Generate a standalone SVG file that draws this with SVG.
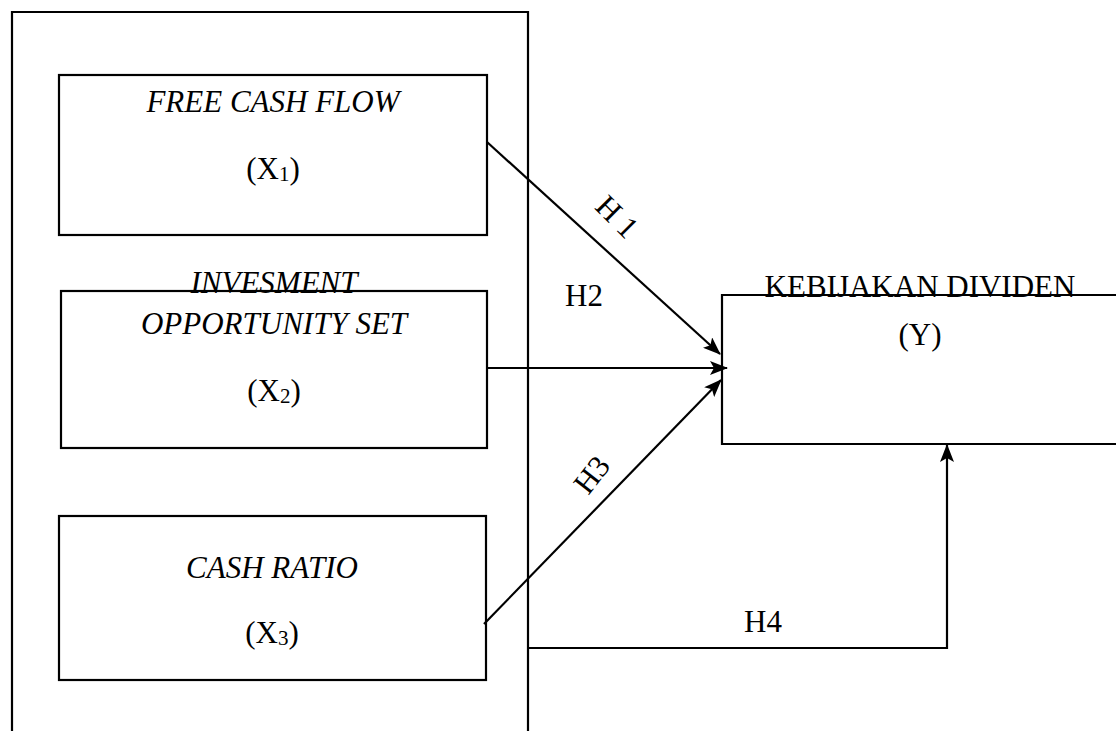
<svg xmlns="http://www.w3.org/2000/svg" width="1116" height="731" viewBox="0 0 1116 731">
<style>
.box{fill:none;stroke:#000;stroke-width:2.2}
.t{font-family:"Liberation Serif","Times New Roman",serif;font-size:31px;fill:#000;text-anchor:middle}
.i{font-style:italic}
.sub{font-size:21px}
.c{fill:none;stroke:#000;stroke-width:2.2}
</style>
<defs>
<marker id="ah" markerUnits="userSpaceOnUse" markerWidth="18" markerHeight="14" refX="17" refY="7" orient="auto">
<path d="M0,0 L18,7 L0,14 L4,7 Z" fill="#000"/>
</marker>
</defs>
<rect width="1116" height="731" fill="#fff"/>
<g id="outer">
<path class="box" d="M12,731 L12,12 L528,12 L528,731"/>
</g>
<g id="x1">
<rect class="box" x="59" y="75" width="428" height="160"/>
<text class="t i" x="273" y="112">FREE CASH FLOW</text>
<text class="t" x="273" y="179">(X<tspan class="sub" dy="2">1</tspan><tspan dy="-2">)</tspan></text>
</g>
<g id="x2">
<rect class="box" x="61" y="291" width="426" height="157"/>
<text class="t i" x="274" y="293">INVESMENT</text>
<text class="t i" x="274" y="334">OPPORTUNITY SET</text>
<text class="t" x="274" y="401">(X<tspan class="sub" dy="2">2</tspan><tspan dy="-2">)</tspan></text>
</g>
<g id="x3">
<rect class="box" x="59" y="516" width="427" height="164"/>
<text class="t i" x="272" y="578">CASH RATIO</text>
<text class="t" x="272" y="643">(X<tspan class="sub" dy="2">3</tspan><tspan dy="-2">)</tspan></text>
</g>
<g id="y">
<path class="box" d="M1117,295 L722,295 L722,444 L1117,444"/>
<text class="t" x="920" y="297">KEBIJAKAN DIVIDEN</text>
<text class="t" x="920" y="345">(Y)</text>
</g>
<g id="connectors">
<line class="c" x1="487" y1="142" x2="720" y2="354" marker-end="url(#ah)"/>
<line class="c" x1="487" y1="368" x2="727" y2="368" marker-end="url(#ah)"/>
<line class="c" x1="484" y1="624" x2="721" y2="380" marker-end="url(#ah)"/>
<polyline class="c" points="528,648 947,648 947,445" marker-end="url(#ah)"/>
<text class="t" x="0" y="0" transform="translate(617,217) rotate(45)" dy="10">H 1</text>
<text class="t" x="584" y="306">H2</text>
<text class="t" x="0" y="0" transform="translate(592,475) rotate(-52)" dy="10">H3</text>
<text class="t" x="763" y="632">H4</text>
</g>
</svg>
